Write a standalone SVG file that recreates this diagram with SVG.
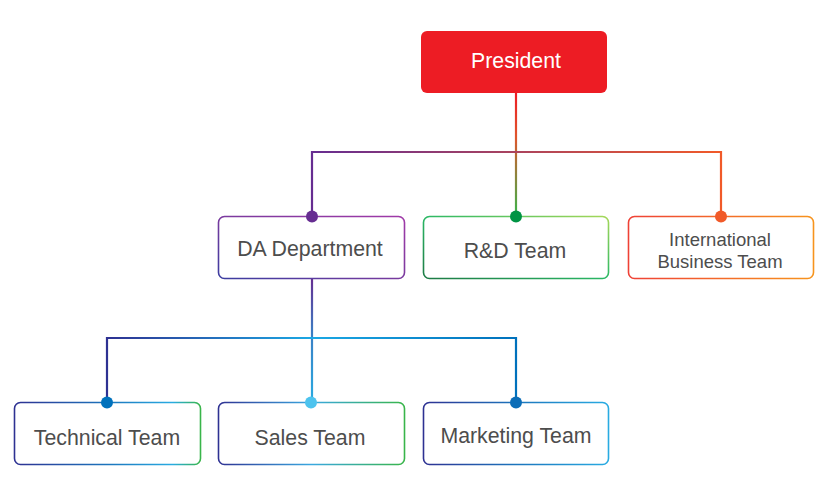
<svg xmlns="http://www.w3.org/2000/svg" width="830" height="480" viewBox="0 0 830 480">
<style>
.box{fill:#fff;stroke-width:1.6}
.lbl{font-family:"Liberation Sans",Arial,sans-serif;font-size:21.3px;fill:#4d4d4d;text-anchor:middle}
.sm{font-size:18.5px}
.conn{fill:none;stroke-width:2.2}
</style>
<defs>
<linearGradient id="gPres" gradientUnits="userSpaceOnUse" x1="0" y1="93" x2="0" y2="216"><stop offset="0" stop-color="#ed1c24"/><stop offset="0.35" stop-color="#e0542c"/><stop offset="1" stop-color="#39b54a"/></linearGradient>
<linearGradient id="gH1" gradientUnits="userSpaceOnUse" x1="312" y1="0" x2="721" y2="0"><stop offset="0" stop-color="#662d91"/><stop offset="1" stop-color="#f15a29"/></linearGradient>
<linearGradient id="gDAdown" gradientUnits="userSpaceOnUse" x1="0" y1="278" x2="0" y2="402"><stop offset="0" stop-color="#662d91"/><stop offset="0.45" stop-color="#3b7fc4"/><stop offset="1" stop-color="#29abe2"/></linearGradient>
<linearGradient id="gH2" gradientUnits="userSpaceOnUse" x1="107" y1="0" x2="516" y2="0"><stop offset="0" stop-color="#2e3192"/><stop offset="0.5" stop-color="#1ba8e4"/><stop offset="1" stop-color="#0071bc"/></linearGradient>
<linearGradient id="gDA" x1="0" y1="1" x2="1" y2="0"><stop offset="0" stop-color="#3b3da0"/><stop offset="0.5" stop-color="#7a3a9e"/><stop offset="1" stop-color="#a03aa8"/></linearGradient>
<linearGradient id="gRD" x1="0" y1="1" x2="1" y2="0"><stop offset="0" stop-color="#1d7a45"/><stop offset="0.5" stop-color="#2bb865"/><stop offset="1" stop-color="#a6d85a"/></linearGradient>
<linearGradient id="gIB" x1="0" y1="0" x2="1" y2="0"><stop offset="0" stop-color="#ef4136"/><stop offset="1" stop-color="#f7941d"/></linearGradient>
<linearGradient id="gT" x1="0" y1="0" x2="1" y2="0"><stop offset="0" stop-color="#2e3192"/><stop offset="0.5" stop-color="#1c75bc"/><stop offset="0.85" stop-color="#29abe2"/><stop offset="1" stop-color="#39b54a"/></linearGradient>
<linearGradient id="gS" x1="0" y1="0" x2="1" y2="0"><stop offset="0" stop-color="#2e3192"/><stop offset="0.5" stop-color="#3aa8e0"/><stop offset="1" stop-color="#39b54a"/></linearGradient>
<linearGradient id="gM" x1="0" y1="0" x2="1" y2="0"><stop offset="0" stop-color="#2e3192"/><stop offset="0.5" stop-color="#1c75bc"/><stop offset="1" stop-color="#29abe2"/></linearGradient>
</defs>
<g id="connectors">
<line class="conn" x1="516" y1="93" x2="516" y2="216" stroke="url(#gPres)"/>
<path class="conn" d="M312 216 V152 H721 V216" stroke="url(#gH1)"/>
<line class="conn" x1="312" y1="278" x2="312" y2="402" stroke="url(#gDAdown)"/>
<path class="conn" d="M107 402 V338 H516 V402" stroke="url(#gH2)"/>
</g>
<g id="president">
<rect x="421" y="31" width="186" height="62" rx="6" fill="#ed1c24"/>
<text class="lbl" x="516" y="68" style="fill:#fff">President</text>
</g>
<g id="da-department">
<rect class="box" x="218.5" y="216.5" width="186" height="62" rx="6" stroke="url(#gDA)"/>
<circle cx="312" cy="216.5" r="6" fill="#662d91"/>
<text class="lbl" x="310" y="255.5">DA Department</text>
</g>
<g id="rd-team">
<rect class="box" x="423.5" y="216.5" width="185" height="62" rx="6" stroke="url(#gRD)"/>
<circle cx="516" cy="216.5" r="6" fill="#009444"/>
<text class="lbl" x="515" y="257.5">R&amp;D Team</text>
</g>
<g id="international-business-team">
<rect class="box" x="628.5" y="216.5" width="185" height="62" rx="6" stroke="url(#gIB)"/>
<circle cx="721" cy="216.5" r="6" fill="#f15a29"/>
<text class="lbl sm" x="720" y="246">International</text>
<text class="lbl sm" x="720" y="268">Business Team</text>
</g>
<g id="technical-team">
<rect class="box" x="14.5" y="402.5" width="186" height="62" rx="6" stroke="url(#gT)"/>
<circle cx="107" cy="402.5" r="6" fill="#0071bc"/>
<text class="lbl" x="107" y="444.5">Technical Team</text>
</g>
<g id="sales-team">
<rect class="box" x="218.5" y="402.5" width="186" height="62" rx="6" stroke="url(#gS)"/>
<circle cx="311" cy="402.5" r="6" fill="#4dc3ee"/>
<text class="lbl" x="310" y="444.5">Sales Team</text>
</g>
<g id="marketing-team">
<rect class="box" x="423.5" y="402.5" width="185" height="62" rx="6" stroke="url(#gM)"/>
<circle cx="516" cy="402.5" r="6" fill="#0b6db7"/>
<text class="lbl" x="516" y="442.5">Marketing Team</text>
</g>
</svg>
